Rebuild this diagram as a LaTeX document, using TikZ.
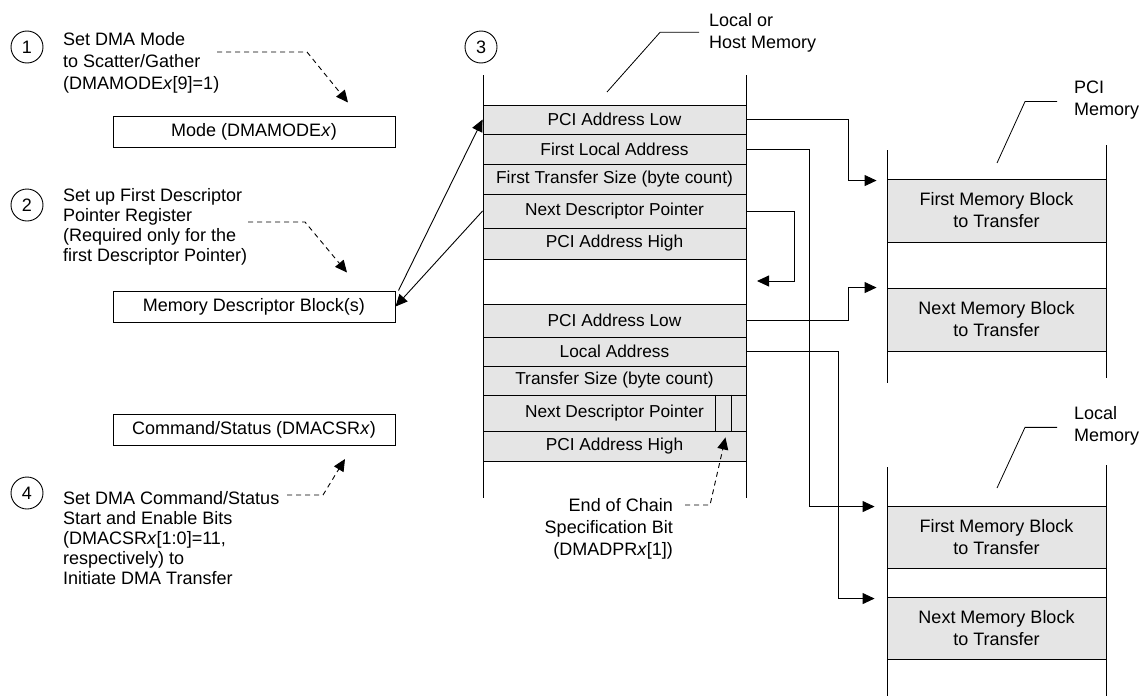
\documentclass[tikz,border=0pt]{standalone}
\usepackage{fontspec}
\setmainfont{Liberation Sans}
\usetikzlibrary{arrows.meta,positioning}

\begin{document}
\begin{tikzpicture}[x=1pt, y=-1pt, every node/.style={font=\fontsize{18}{22}\selectfont},
  stepnum/.style={circle, draw, line width=0.9pt, minimum size=32pt, inner sep=0pt},
  note/.style={align=left, inner sep=0pt},
  tight/.style={font=\fontsize{18}{20}\selectfont},
  regbox/.style={draw, line width=1pt, minimum width=282pt, minimum height=31pt, inner sep=0pt},
  desc/.style={draw, line width=0.9pt, fill=black!10, minimum width=263pt, inner sep=0pt, font=\fontsize{17.3}{20}\selectfont},
  blk/.style={draw, line width=0.9pt, fill=black!10, minimum width=219pt, minimum height=63pt, align=center, inner sep=0pt},
  conn/.style={line width=0.9pt, -{Triangle[length=12pt, width=11pt]}},
  hint/.style={conn, dash pattern=on 5pt off 4pt},
  lead/.style={line width=0.8pt},
  rail/.style={line width=0.9pt}]
  \useasboundingbox (0,0) rectangle (1142,696);

  % Step 1 (top-left)
  \node[stepnum] (c1) at (27,47) {1};
  \node[note, anchor=base west] (n1) at (63,89) {Set DMA Mode\\to Scatter/Gather\\(DMAMODE\textit{x}[9]=1)};
  \node[regbox] (mode) at (254,131.5) {Mode (DMAMODE\textit{x})};
  \coordinate (h1) at (217,52);
  \draw[hint] (h1) -- ++(90,0) -- ([xshift=94pt,yshift=13pt]mode.north);

  % Step 2
  \node[stepnum] (c2) at (27,205) {2};
  \node[note, tight, anchor=base west] (n2) at (63,261) {Set up First Descriptor\\Pointer Register\\(Required only for the\\first Descriptor Pointer)};
  \node[regbox] (mdb) at (254,306.5) {Memory Descriptor Block(s)};
  \coordinate (h2) at (248,222);
  \draw[hint] (h2) -- ++(57,0) -- ([xshift=93pt,yshift=18pt]mdb.north);

  % Step 4 (bottom-left)
  \node[regbox] (csr) at (254,430) {Command/Status (DMACSR\textit{x})};
  \node[stepnum] (c4) at (27,493) {4};
  \node[note, tight, anchor=base west] (n4) at (63,584) {Set DMA Command/Status\\Start and Enable Bits\\(DMACSR\textit{x}[1:0]=11,\\respectively) to\\Initiate DMA Transfer};
  \coordinate (h4) at (287,495);
  \draw[hint] (h4) -- ++(36,0) -- ([xshift=91pt,yshift=-13pt]csr.south);

  % Step 3: descriptors in local or host memory
  \node[stepnum] (c3) at (481,47) {3};
  \node[note, anchor=base west] (hostlbl) at (709,48) {Local or\\Host Memory};
  \coordinate (hostptr) at (607,92);
  \draw[lead] ([xshift=-10pt]hostlbl.west) -- ++(-39,0) -- (hostptr);
  \draw[rail] (483,75) -- (483,498);
  \draw[rail] (746,75) -- (746,498);

  \node[desc, minimum height=29pt] (pal1) at (614.5,119.5) {PCI Address Low};
  \node[desc, minimum height=30pt] (fla) at (614.5,149) {First Local Address};
  \node[desc, minimum height=30pt] (fts) at (614.5,179) {First Transfer Size (byte count)};
  \node[desc, minimum height=34pt] (ndp1) at (614.5,211) {Next Descriptor Pointer};
  \node[desc, minimum height=31pt] (pah1) at (614.5,243.5) {PCI Address High};

  \node[desc, minimum height=33pt] (pal2) at (614.5,320.5) {PCI Address Low};
  \node[desc, minimum height=29pt] (la2) at (614.5,351.5) {Local Address};
  \node[desc, minimum height=29pt] (ts2) at (614.5,380.5) {Transfer Size (byte count)};
  \node[desc, minimum height=36pt] (ndp2) at (614.5,413) {Next Descriptor Pointer};
  \node[desc, minimum height=30pt] (pah2) at (614.5,446) {PCI Address High};
  \draw[rail] ([xshift=-31pt]ndp2.north east) -- ([xshift=-31pt]ndp2.south east);
  \draw[rail] ([xshift=-15pt]ndp2.north east) -- ([xshift=-15pt]ndp2.south east);

  \node[note, align=right, anchor=base east] (eoc) at (673,555) {End of Chain\\Specification Bit\\(DMADPR\textit{x}[1])};
  \coordinate (h5) at (685,505);
  \draw[hint] (h5) -- ++(25,0) -- ([xshift=-21pt,yshift=-6pt]ndp2.south east);

  \draw[conn] ([xshift=3pt]mdb.north east) -- (pal1.west);
  \draw[conn] (ndp1.west) -- (mdb.east);

  % PCI memory (top-right)
  \node[note, anchor=base west] (pcilbl) at (1074,115) {PCI\\Memory};
  \coordinate (pciptr) at (997,163);
  \draw[lead] ([xshift=-17pt,yshift=-2pt]pcilbl.west) -- ++(-32,0) -- (pciptr);
  \draw[rail] (887,150) -- (887,383);
  \draw[rail] (1106,145) -- (1106,378);
  \node[blk] (pmb1) at (996.5,210.5) {First Memory Block\\to Transfer};
  \node[blk] (pmb2) at (996.5,319.5) {Next Memory Block\\to Transfer};

  % Local memory (bottom-right)
  \node[note, anchor=base west] (loclbl) at (1074,441) {Local\\Memory};
  \coordinate (locptr) at (997,488);
  \draw[lead] ([xshift=-17pt,yshift=-2pt]loclbl.west) -- ++(-32,0) -- (locptr);
  \draw[rail] (887,467) -- (887,696);
  \draw[rail] (1106,465) -- (1106,696);
  \node[blk, minimum height=62pt] (lmb1) at (996.5,537) {First Memory Block\\to Transfer};
  \node[blk, minimum height=62pt] (lmb2) at (996.5,628) {Next Memory Block\\to Transfer};

  % pointers out of the descriptors
  \draw[conn] (pal1.east) -- ++(102,0) |- ([xshift=-10pt,yshift=-2pt]pmb1.north west);
  \draw[conn] (fla.east) -- ++(63,0) |- ([xshift=-12pt,yshift=-1pt]lmb1.north west);
  \coordinate (ndpret) at (757,281);
  \draw[conn] (ndp1.east) -- ++(48,0) |- (ndpret);
  \draw[conn] (pal2.east) -- ++(102,0) |- ([xshift=-10pt]pmb2.north west);
  \draw[conn] (la2.east) -- ++(92,0) |- ([xshift=-12pt,yshift=-2pt]lmb2.north west);

\end{tikzpicture}
\end{document}
